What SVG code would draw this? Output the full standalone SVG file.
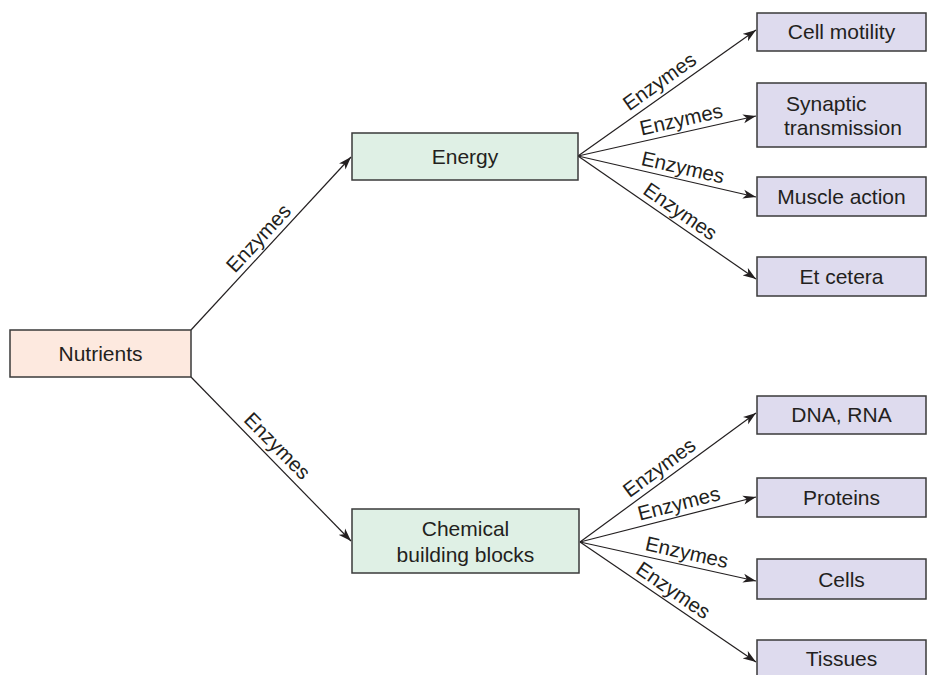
<svg xmlns="http://www.w3.org/2000/svg" width="927" height="675" viewBox="0 0 927 675">
<defs>
<style>
.box{stroke:#3a3a3a;stroke-width:1.5}
.nut{fill:#fde9df}
.mid{fill:#dff0e5}
.out{fill:#dedbee}
text{font-family:"Liberation Sans",Arial,sans-serif;font-size:21px;fill:#231f20}
.c{text-anchor:middle}
.lbl{text-anchor:middle;font-size:20.5px}
.ln{stroke:#231f20;stroke-width:1.2;fill:none}
.arr{marker-end:url(#ah)}
</style>
<marker id="ah" markerUnits="userSpaceOnUse" markerWidth="14" markerHeight="10" refX="13" refY="5" orient="auto">
<path d="M0,0.5 L13,5 L0,9.5 L3.5,5 Z" fill="#231f20"/>
</marker>
</defs>
<g id="connectors">
<line class="ln arr" x1="191" y1="330" x2="351" y2="157"/>
<line class="ln arr" x1="191" y1="377" x2="351" y2="541"/>
<line class="ln arr" x1="578" y1="156" x2="756" y2="30"/>
<line class="ln arr" x1="578" y1="156" x2="756" y2="116"/>
<line class="ln arr" x1="578" y1="156" x2="756" y2="197"/>
<line class="ln arr" x1="578" y1="156" x2="756" y2="279"/>
<line class="ln arr" x1="580" y1="542" x2="756" y2="413"/>
<line class="ln arr" x1="580" y1="542" x2="756" y2="497"/>
<line class="ln arr" x1="580" y1="542" x2="756" y2="581"/>
<line class="ln arr" x1="580" y1="542" x2="756" y2="662"/>
<text class="lbl" transform="translate(268,247) rotate(-47.1)" x="0" y="-6">Enzymes</text>
<text class="lbl" transform="translate(268,455) rotate(45.5)" x="0" y="-6">Enzymes</text>
<text class="lbl" transform="translate(667,92) rotate(-35.4)" x="0" y="-6">Enzymes</text>
<text class="lbl" transform="translate(684,132) rotate(-12.7)" x="0" y="-6">Enzymes</text>
<text class="lbl" transform="translate(680,180) rotate(13)" x="0" y="-6">Enzymes</text>
<text class="lbl" transform="translate(673,222) rotate(34.8)" x="0" y="-6">Enzymes</text>
<text class="lbl" transform="translate(667,478) rotate(-36.4)" x="0" y="-6">Enzymes</text>
<text class="lbl" transform="translate(682,516) rotate(-14.4)" x="0" y="-6">Enzymes</text>
<text class="lbl" transform="translate(684,565) rotate(12.6)" x="0" y="-6">Enzymes</text>
<text class="lbl" transform="translate(666,601) rotate(34.4)" x="0" y="-6">Enzymes</text>
</g>
<g id="nutrients">
<rect class="box nut" x="10" y="330" width="181" height="47"/>
<text class="c" x="100.5" y="361">Nutrients</text>
</g>
<g id="energy">
<rect class="box mid" x="352" y="133" width="226" height="47"/>
<text class="c" x="465" y="164">Energy</text>
</g>
<g id="chemical">
<rect class="box mid" x="352" y="509" width="227" height="64"/>
<text class="c" x="465.5" y="536">Chemical</text>
<text class="c" x="465.5" y="562">building blocks</text>
</g>
<g id="cell-motility">
<rect class="box out" x="757" y="13" width="169" height="38"/>
<text class="c" x="841.5" y="39">Cell motility</text>
</g>
<g id="synaptic">
<rect class="box out" x="757" y="83" width="169" height="64"/>
<text x="786" y="111">Synaptic</text>
<text x="784" y="135">transmission</text>
</g>
<g id="muscle">
<rect class="box out" x="757" y="177" width="169" height="39"/>
<text class="c" x="841.5" y="204">Muscle action</text>
</g>
<g id="etcetera">
<rect class="box out" x="757" y="257" width="169" height="39"/>
<text class="c" x="841.5" y="284">Et cetera</text>
</g>
<g id="dna">
<rect class="box out" x="757" y="396" width="169" height="38"/>
<text class="c" x="841.5" y="422">DNA, RNA</text>
</g>
<g id="proteins">
<rect class="box out" x="757" y="478" width="169" height="39"/>
<text class="c" x="841.5" y="505">Proteins</text>
</g>
<g id="cells">
<rect class="box out" x="757" y="559" width="169" height="40"/>
<text class="c" x="841.5" y="587">Cells</text>
</g>
<g id="tissues">
<rect class="box out" x="757" y="640" width="169" height="40"/>
<text class="c" x="841.5" y="666">Tissues</text>
</g>
</svg>
